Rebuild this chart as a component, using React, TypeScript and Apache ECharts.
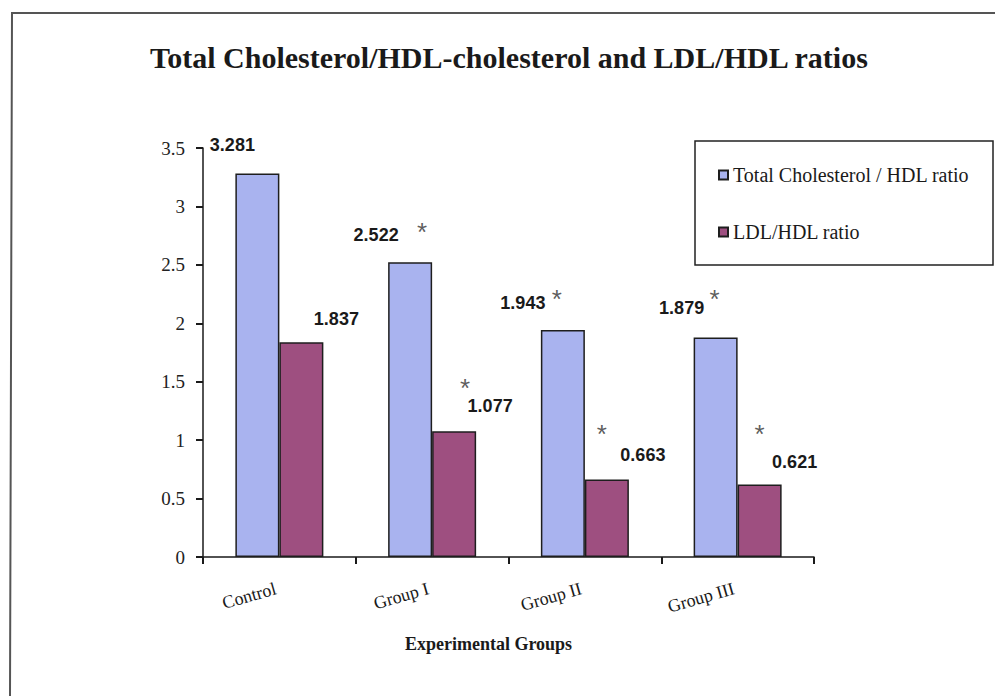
import React, { useEffect, useRef } from "react";
import * as echarts from "echarts";

// Experimental groups and the two lipid ratios measured for each
const categories = ["Control", "Group I", "Group II", "Group III"];
const tcHdlRatio = [3.281, 2.522, 1.943, 1.879];
const ldlHdlRatio = [1.837, 1.077, 0.663, 0.621];
// Significant difference from control (marked with *)
const tcSignificant = [false, true, true, true];
const ldlSignificant = [false, true, true, true];

const seriesNames = ["Total Cholesterol / HDL ratio", "LDL/HDL ratio"];
const yTicks = { min: 0, max: 3.5, interval: 0.5 };

// Label placement tweaks (pixels) for the value labels and asterisks
const tcLabelOffsets = [[-25, -15], [-34, -13], [-40, -13], [-34, -15]];
const ldlLabelOffsets = [[35, -9], [36, -11], [36, -11], [35, -8]];
const tcStarOffsets = [[0, 0], [-10, -30], [-28, -31], [-23, -38]];
const ldlStarOffsets = [[0, 0], [33, -43], [17, -46], [22, -50]];

const BLUE = "#a9b3ef";
const PLUM = "#9e4f80";
const EDGE = "#1e1e1e";

function barData(values: number[], offsets: number[][]) {
  return values.map((v, i) => ({
    value: v,
    label: { offset: offsets[i] },
  }));
}

function starData(values: number[], flags: boolean[], offsets: number[][]) {
  const out: any[] = [];
  values.forEach((v, i) => {
    if (flags[i]) out.push({ value: [i, v], label: { offset: offsets[i] } });
  });
  return out;
}

export default function App() {
  const ref = useRef<HTMLDivElement>(null);

  useEffect(() => {
    if (!ref.current) return;
    const chart = echarts.init(ref.current, null, { renderer: "svg" });

    const valueLabel = {
      show: true,
      position: "top",
      distance: 5,
      fontFamily: "Liberation Sans, Arial, sans-serif",
      fontWeight: "bold",
      fontSize: 18,
      color: "#1a1a1a",
      formatter: (p: any) => p.value.toFixed(3),
    };

    const starSeries = (name: string, data: any[]) => ({
      name,
      type: "scatter",
      data,
      symbolSize: 1,
      itemStyle: { color: "rgba(0,0,0,0)" },
      silent: true,
      label: {
        show: true,
        position: "inside",
        formatter: "*",
        fontFamily: "Liberation Sans, Arial, sans-serif",
        fontSize: 26,
        color: "#333",
      },
      z: 5,
    });

    chart.setOption({
      animation: false,
      backgroundColor: "#ffffff",
      title: {
        text: "Total Cholesterol/HDL-cholesterol and LDL/HDL ratios",
        left: 150,
        top: 42,
        padding: 0,
        textStyle: {
          fontFamily: "Liberation Serif, Times New Roman, serif",
          fontWeight: "bold",
          fontSize: 30,
          color: "#1a1a1a",
        },
      },
      legend: {
        data: seriesNames,
        orient: "vertical",
        left: 718,
        top: 165,
        padding: 0,
        itemWidth: 9,
        itemHeight: 9,
        itemGap: 37,
        icon: "rect",
        textStyle: {
          fontFamily: "Liberation Serif, Times New Roman, serif",
          fontSize: 20,
          color: "#1a1a1a",
        },
      },
      graphic: [
        {
          type: "polyline",
          shape: { points: [[10, 700], [12, 13], [1000, 13]] },
          style: { stroke: "#555", lineWidth: 2, fill: "none" },
          silent: true,
        },
        {
          type: "rect",
          shape: { x: 695, y: 141, width: 298, height: 124 },
          style: { stroke: "#222", lineWidth: 1.5, fill: "none" },
          silent: true,
        },
      ],
      grid: { left: 203, right: 181, top: 148, bottom: 139 },
      xAxis: {
        type: "category",
        data: categories,
        axisLine: { lineStyle: { color: "#1a1a1a", width: 1.5 } },
        axisTick: { show: true, length: 7, lineStyle: { color: "#1a1a1a", width: 2 } },
        axisLabel: {
          rotate: 16,
          margin: 30,
          fontFamily: "Liberation Serif, Times New Roman, serif",
          fontSize: 18,
          color: "#1a1a1a",
          padding: [0, 4, 0, 0],
        },
        name: "Experimental Groups",
        nameLocation: "middle",
        nameGap: 78,
        nameTextStyle: {
          fontFamily: "Liberation Serif, Times New Roman, serif",
          fontWeight: "bold",
          fontSize: 18,
          color: "#1a1a1a",
          padding: [0, 40, 0, 0],
        },
      },
      yAxis: {
        type: "value",
        min: yTicks.min,
        max: yTicks.max,
        interval: yTicks.interval,
        splitLine: { show: false },
        axisLine: { show: true, lineStyle: { color: "#1a1a1a", width: 1.5 } },
        axisTick: { show: true, length: 7, lineStyle: { color: "#1a1a1a", width: 2 } },
        axisLabel: {
          margin: 18,
          fontFamily: "Liberation Serif, Times New Roman, serif",
          fontSize: 19,
          color: "#222",
        },
      },
      series: [
        {
          name: seriesNames[0],
          type: "bar",
          data: barData(tcHdlRatio, tcLabelOffsets),
          barWidth: 44,
          barGap: "0%",
          itemStyle: { color: BLUE, borderColor: EDGE, borderWidth: 1.5 },
          label: valueLabel,
        },
        {
          name: seriesNames[1],
          type: "bar",
          data: barData(ldlHdlRatio, ldlLabelOffsets),
          barWidth: 44,
          barGap: "0%",
          itemStyle: { color: PLUM, borderColor: EDGE, borderWidth: 1.5 },
          label: valueLabel,
        },
        starSeries("tc-significance", starData(tcHdlRatio, tcSignificant, tcStarOffsets)),
        starSeries("ldl-significance", starData(ldlHdlRatio, ldlSignificant, ldlStarOffsets)),
      ],
    });

    return () => chart.dispose();
  }, []);

  return (
    <div
      ref={ref}
      style={{ position: "fixed", left: 0, top: 0, width: 995, height: 696 }}
    />
  );
}
